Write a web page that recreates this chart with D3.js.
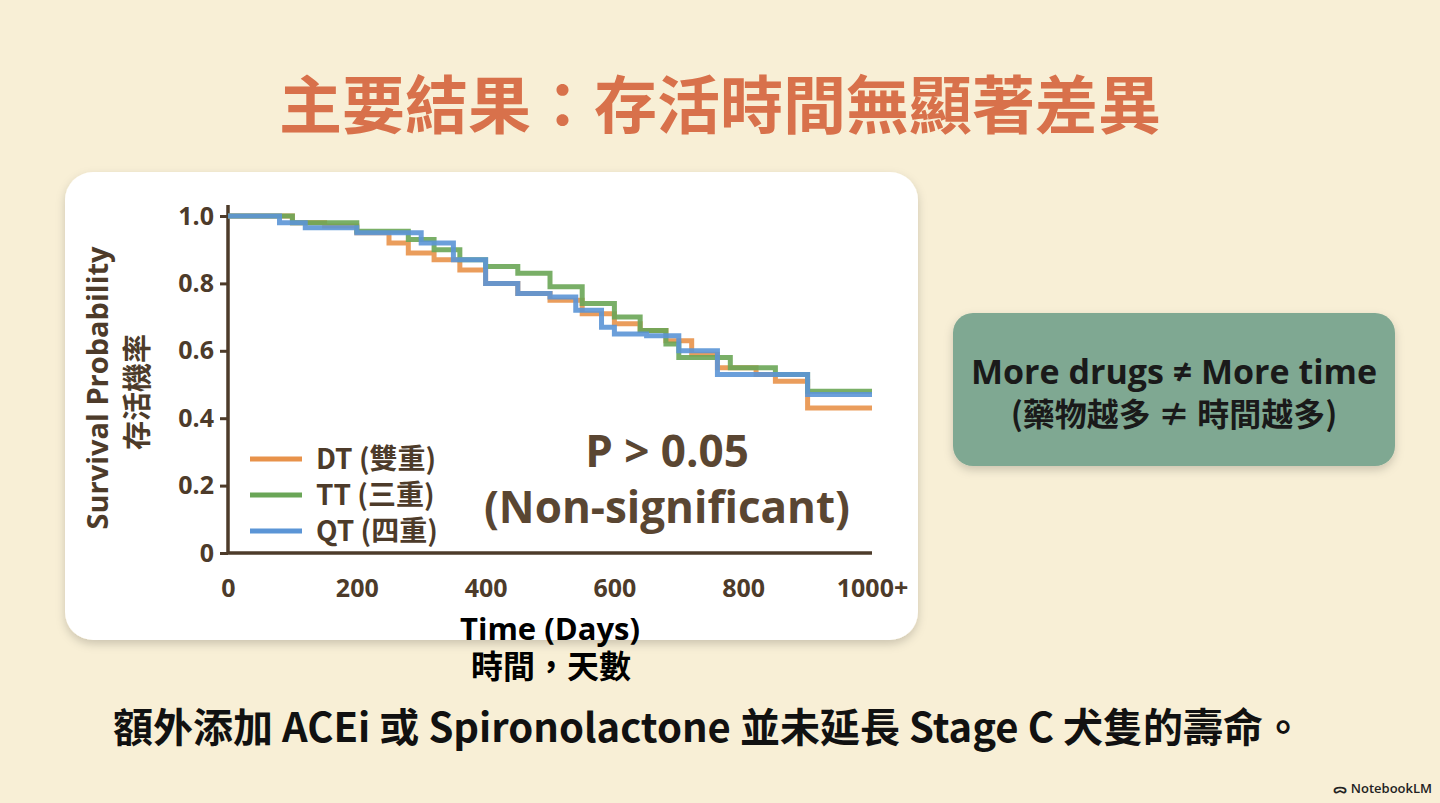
<!DOCTYPE html>
<html><head><meta charset="utf-8">
<script src="https://cdn.jsdelivr.net/npm/d3@7"></script>
<style>body{margin:0;background:#f8efd6;}svg{display:block;font-family:"Noto Sans CJK TC","Noto Sans",sans-serif;}</style>
</head><body>
<script>
// Kaplan-Meier style step data: [day, survival]
const dtSeries = [[0,1],[100,0.98],[150,0.97],[200,0.95],[250,0.92],[280,0.89],[320,0.87],[360,0.84],[400,0.80],[450,0.77],[500,0.75],[550,0.71],[600,0.68],[640,0.66],[680,0.63],[720,0.59],[760,0.55],[820,0.53],[850,0.51],[900,0.43],[1000,0.43]];
const ttSeries = [[0,1],[100,0.98],[200,0.955],[280,0.93],[320,0.90],[360,0.87],[400,0.85],[450,0.83],[500,0.79],[550,0.74],[600,0.70],[640,0.66],[680,0.62],[700,0.58],[780,0.55],[850,0.53],[900,0.48],[1000,0.48]];
const qtSeries = [[0,1],[80,0.98],[120,0.965],[200,0.95],[300,0.92],[350,0.87],[400,0.80],[450,0.77],[500,0.76],[540,0.72],[580,0.67],[600,0.65],[650,0.645],[700,0.60],[760,0.53],[900,0.47],[1000,0.47]];
const seriesNames = ["DT (雙重)","TT (三重)","QT (四重)"];
const seriesColors = ["#e8924a","#6aa657","#5b95d6"];
const xTicks = [0,200,400,600,800,1000];
const yTicks = [0,0.2,0.4,0.6,0.8,1.0];

const svg = d3.select("body").append("svg").attr("width",1440).attr("height",803);
const defs = svg.append("defs");
const f = defs.append("filter").attr("id","sh").attr("x","-10%").attr("y","-10%").attr("width","120%").attr("height","130%");
f.append("feDropShadow").attr("dx",0).attr("dy",4).attr("stdDeviation",5).attr("flood-color","#000").attr("flood-opacity",0.18);

svg.append("text").attr("x",720).attr("y",128).attr("text-anchor","middle")
  .attr("font-size",63).attr("font-weight",700).attr("fill","#d8714b").text("主要結果：存活時間無顯著差異");

svg.append("rect").attr("x",65).attr("y",172).attr("width",853).attr("height",468).attr("rx",28).attr("fill","#fff").attr("filter","url(#sh)");

const x = d3.scaleLinear().domain([0,1000]).range([228,872]);
const y = d3.scaleLinear().domain([0,1]).range([553,216]);
const brown = "#4d3b2a";

const ya = svg.append("g").attr("transform","translate(228,0)")
  .call(d3.axisLeft(y).tickValues(yTicks).tickFormat(d=> d===0?"0":d3.format(".1f")(d)).tickSize(8).tickPadding(6));
const xa = svg.append("g").attr("transform","translate(0,553)")
  .call(d3.axisBottom(x).tickValues(xTicks).tickFormat(d=> d===1000?"1000+":d).tickSize(0).tickPadding(26));
[ya,xa].forEach(a=>{
  a.select(".domain").attr("stroke",brown).attr("stroke-width",3.5);
  a.selectAll("line").attr("stroke",brown).attr("stroke-width",3);
  a.selectAll("text").attr("fill",brown).attr("font-size",25).attr("font-weight",700).attr("font-family","Open Sans, sans-serif");
});
ya.select(".domain").attr("d","M0,553V205");
xa.select(".domain").attr("d","M228,0H872");

const line = d3.line().x(d=>x(d[0])).y(d=>y(d[1])).curve(d3.curveStepAfter);
[dtSeries,ttSeries,qtSeries].forEach((s,i)=>{
  svg.append("path").datum(s).attr("d",line).attr("fill","none")
    .attr("stroke",seriesColors[i]).attr("stroke-width",5).attr("stroke-opacity",0.9);
});

svg.append("text").attr("transform","translate(108,388) rotate(-90)").attr("text-anchor","middle")
  .attr("font-size",29).attr("font-weight",700).attr("fill",brown).attr("font-family","Open Sans, sans-serif").text("Survival Probability");
svg.append("text").attr("transform","translate(148,392) rotate(-90)").attr("text-anchor","middle")
  .attr("font-size",29).attr("font-weight",700).attr("fill",brown).text("存活機率");

const lg = svg.append("g");
seriesNames.forEach((n,i)=>{
  const yy = 459 + i*36;
  lg.append("line").attr("x1",250).attr("x2",302).attr("y1",yy).attr("y2",yy).attr("stroke",seriesColors[i]).attr("stroke-width",5);
  lg.append("text").attr("x",316).attr("y",yy+10).attr("font-size",28).attr("font-weight",700).attr("fill",brown).text(n);
});

svg.append("text").attr("x",667).attr("y",467).attr("text-anchor","middle").attr("font-size",44).attr("font-weight",700)
  .attr("fill","#5a4632").attr("font-family","Open Sans, sans-serif").text("P > 0.05");
svg.append("text").attr("x",667).attr("y",523).attr("text-anchor","middle").attr("font-size",44).attr("font-weight",700)
  .attr("fill","#5a4632").attr("font-family","Open Sans, sans-serif").text("(Non-significant)");

svg.append("text").attr("x",550).attr("y",640).attr("text-anchor","middle").attr("font-size",31).attr("font-weight",700)
  .attr("fill","#000").attr("font-family","Open Sans, sans-serif").text("Time (Days)");
svg.append("text").attr("x",551).attr("y",678).attr("text-anchor","middle").attr("font-size",32).attr("font-weight",700)
  .attr("fill","#000").text("時間，天數");

svg.append("rect").attr("x",953).attr("y",313).attr("width",442).attr("height",153).attr("rx",20)
  .attr("fill","#7fa892").attr("filter","url(#sh)");
svg.append("text").attr("x",1174).attr("y",384).attr("text-anchor","middle").attr("font-size",34).attr("font-weight",700)
  .attr("fill","#1a1a1a").attr("font-family","Open Sans, sans-serif").text("More drugs ≠ More time");
svg.append("text").attr("x",1174).attr("y",426).attr("text-anchor","middle").attr("font-size",32).attr("font-weight",700)
  .attr("fill","#1a1a1a").text("(藥物越多 ≠ 時間越多)");

svg.append("text").attr("x",708).attr("y",742).attr("text-anchor","middle").attr("font-size",40).attr("font-weight",700)
  .attr("fill","#111").text("額外添加 ACEi 或 Spironolactone 並未延長 Stage C 犬隻的壽命。");

svg.append("text").attr("x",1432).attr("y",793).attr("text-anchor","end").attr("font-size",13).attr("font-weight",600)
  .attr("fill","#222").attr("font-family","Open Sans, sans-serif").text("ᯅ NotebookLM");
</script>
</body></html>
